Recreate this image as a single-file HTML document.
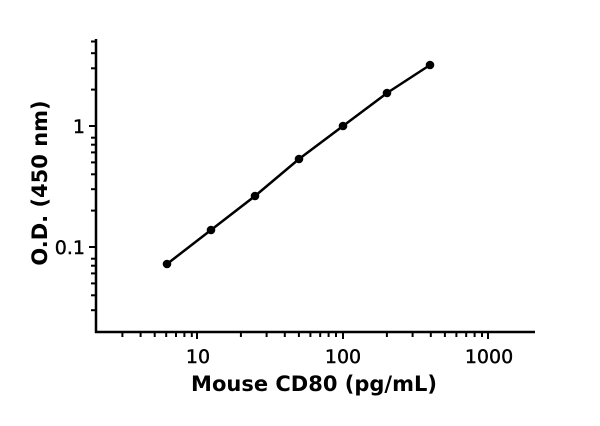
<!DOCTYPE html>
<html><head><style>body{margin:0;background:#fff}</style></head><body>
<svg width="600" height="421" xmlns="http://www.w3.org/2000/svg" font-family="DejaVu Sans, Liberation Sans, sans-serif">
<g stroke="#000" stroke-width="2.5" fill="none">
<line x1="96" y1="39" x2="96" y2="333"/>
<line x1="95" y1="332" x2="535" y2="332"/>
</g>
<g stroke="#000" stroke-width="2">
<line x1="89" y1="126" x2="96" y2="126"/><line x1="89" y1="247" x2="96" y2="247"/>
<line x1="91" y1="89.6" x2="96" y2="89.6"/><line x1="91" y1="68.3" x2="96" y2="68.3"/><line x1="91" y1="53.2" x2="96" y2="53.2"/><line x1="91" y1="41.5" x2="96" y2="41.5"/>
<line x1="91" y1="137.7" x2="96" y2="137.7"/><line x1="91" y1="144.7" x2="96" y2="144.7"/><line x1="91" y1="152.4" x2="96" y2="152.4"/><line x1="91" y1="162.4" x2="96" y2="162.4"/><line x1="91" y1="174.3" x2="96" y2="174.3"/><line x1="91" y1="189.2" x2="96" y2="189.2"/><line x1="91" y1="210.6" x2="96" y2="210.6"/>
<line x1="91" y1="258.7" x2="96" y2="258.7"/><line x1="91" y1="265.7" x2="96" y2="265.7"/><line x1="91" y1="273.4" x2="96" y2="273.4"/><line x1="91" y1="283.4" x2="96" y2="283.4"/><line x1="91" y1="295.3" x2="96" y2="295.3"/><line x1="91" y1="310.2" x2="96" y2="310.2"/>
<line x1="197" y1="332" x2="197" y2="339"/><line x1="343" y1="332" x2="343" y2="339"/><line x1="488" y1="332" x2="488" y2="339"/>
<line x1="122.4" y1="332" x2="122.4" y2="337"/><line x1="140.6" y1="332" x2="140.6" y2="337"/><line x1="154.7" y1="332" x2="154.7" y2="337"/><line x1="166.2" y1="332" x2="166.2" y2="337"/><line x1="176" y1="332" x2="176" y2="337"/><line x1="184.4" y1="332" x2="184.4" y2="337"/><line x1="191.8" y1="332" x2="191.8" y2="337"/>
<line x1="240.9" y1="332" x2="240.9" y2="337"/><line x1="266.6" y1="332" x2="266.6" y2="337"/><line x1="284.8" y1="332" x2="284.8" y2="337"/><line x1="298.9" y1="332" x2="298.9" y2="337"/><line x1="310.4" y1="332" x2="310.4" y2="337"/><line x1="320.2" y1="332" x2="320.2" y2="337"/><line x1="328.6" y1="332" x2="328.6" y2="337"/><line x1="336" y1="332" x2="336" y2="337"/>
<line x1="386.9" y1="332" x2="386.9" y2="337"/><line x1="412.6" y1="332" x2="412.6" y2="337"/><line x1="430.8" y1="332" x2="430.8" y2="337"/><line x1="444.9" y1="332" x2="444.9" y2="337"/><line x1="456.4" y1="332" x2="456.4" y2="337"/><line x1="466.2" y1="332" x2="466.2" y2="337"/><line x1="474.6" y1="332" x2="474.6" y2="337"/><line x1="482" y1="332" x2="482" y2="337"/>
</g>
<polyline points="167,264 211,230 255,196 299,159 343,126 387,93 430,65" fill="none" stroke="#000" stroke-width="2.5"/>
<g fill="#000">
<circle cx="167" cy="264" r="4.3"/><circle cx="211" cy="230" r="4.3"/><circle cx="255" cy="196" r="4.3"/><circle cx="299" cy="159" r="4.3"/><circle cx="343" cy="126" r="4.3"/><circle cx="387" cy="93" r="4.3"/><circle cx="430" cy="65" r="4.3"/>
</g>
<g font-size="19" text-anchor="end" fill="#000" stroke="#000" stroke-width="0.4">
<text x="85" y="133">1</text><text x="85" y="254">0.1</text>
</g>
<g font-size="19" text-anchor="middle" fill="#000" stroke="#000" stroke-width="0.4">
<text x="198" y="363">10</text><text x="343" y="363">100</text><text x="489" y="363">1000</text>
</g>
<text x="314" y="391" font-size="21" font-weight="bold" text-anchor="middle">Mouse CD80 (pg/mL)</text>
<text transform="translate(47,183) rotate(-90)" font-size="21" font-weight="bold" text-anchor="middle">O.D. (450 nm)</text>
</svg>
</body></html>
